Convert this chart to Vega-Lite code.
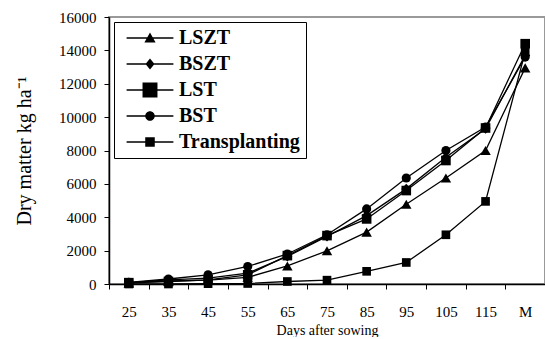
{
  "$schema": "https://vega.github.io/schema/vega-lite/v6.json",
  "width": 436,
  "height": 267,
  "padding": {"left": 14, "top": 10, "right": 0, "bottom": 0},
  "background": "white",
  "config": {
    "view": {"stroke": "#999999", "strokeWidth": 2},
    "font": "Liberation Serif",
    "axisY": {"labelOverlap": false}
  },
  "data": {
    "values": [
      {"series": "BST", "day": "25", "dm": 100}, {"series": "BST", "day": "35", "dm": 300}, {"series": "BST", "day": "45", "dm": 550}, {"series": "BST", "day": "55", "dm": 1050}, {"series": "BST", "day": "65", "dm": 1800}, {"series": "BST", "day": "75", "dm": 2950}, {"series": "BST", "day": "85", "dm": 4500}, {"series": "BST", "day": "95", "dm": 6350}, {"series": "BST", "day": "105", "dm": 8000}, {"series": "BST", "day": "115", "dm": 9400}, {"series": "BST", "day": "M", "dm": 13600},
      {"series": "BSZT", "day": "25", "dm": 80}, {"series": "BSZT", "day": "35", "dm": 250}, {"series": "BSZT", "day": "45", "dm": 350}, {"series": "BSZT", "day": "55", "dm": 650}, {"series": "BSZT", "day": "65", "dm": 1650}, {"series": "BSZT", "day": "75", "dm": 2850}, {"series": "BSZT", "day": "85", "dm": 4100}, {"series": "BSZT", "day": "95", "dm": 5700}, {"series": "BSZT", "day": "105", "dm": 7600}, {"series": "BSZT", "day": "115", "dm": 9300}, {"series": "BSZT", "day": "M", "dm": 13700},
      {"series": "LSZT", "day": "25", "dm": 50}, {"series": "LSZT", "day": "35", "dm": 180}, {"series": "LSZT", "day": "45", "dm": 230}, {"series": "LSZT", "day": "55", "dm": 400}, {"series": "LSZT", "day": "65", "dm": 1080}, {"series": "LSZT", "day": "75", "dm": 1990}, {"series": "LSZT", "day": "85", "dm": 3110}, {"series": "LSZT", "day": "95", "dm": 4780}, {"series": "LSZT", "day": "105", "dm": 6350}, {"series": "LSZT", "day": "115", "dm": 8000}, {"series": "LSZT", "day": "M", "dm": 12950},
      {"series": "Transplanting", "day": "25", "dm": 0}, {"series": "Transplanting", "day": "35", "dm": 0}, {"series": "Transplanting", "day": "45", "dm": 20}, {"series": "Transplanting", "day": "55", "dm": 30}, {"series": "Transplanting", "day": "65", "dm": 150}, {"series": "Transplanting", "day": "75", "dm": 230}, {"series": "Transplanting", "day": "85", "dm": 760}, {"series": "Transplanting", "day": "95", "dm": 1290}, {"series": "Transplanting", "day": "105", "dm": 2950}, {"series": "Transplanting", "day": "115", "dm": 4950}, {"series": "Transplanting", "day": "M", "dm": 13900},
      {"series": "LST", "day": "25", "dm": 80}, {"series": "LST", "day": "35", "dm": 150}, {"series": "LST", "day": "45", "dm": 250}, {"series": "LST", "day": "55", "dm": 550}, {"series": "LST", "day": "65", "dm": 1700}, {"series": "LST", "day": "75", "dm": 2900}, {"series": "LST", "day": "85", "dm": 3900}, {"series": "LST", "day": "95", "dm": 5600}, {"series": "LST", "day": "105", "dm": 7400}, {"series": "LST", "day": "115", "dm": 9350}, {"series": "LST", "day": "M", "dm": 14400}
    ]
  },
  "encoding": {
    "y": {
      "field": "dm", "type": "quantitative",
      "scale": {"domain": [0, 16000], "nice": false},
      "axis": {
        "title": "Dry matter kg ha⁻¹",
        "titleFont": "Liberation Serif", "titleFontSize": 20, "titleFontWeight": "normal", "titleColor": "black", "titlePadding": 24,
        "labelFont": "Liberation Serif", "labelFontSize": 15, "labelColor": "black", "labelPadding": 8,
        "values": [0, 2000, 4000, 6000, 8000, 10000, 12000, 14000, 16000],
        "format": "d", "grid": false, "labelOverlap": false,
        "tickSize": 5, "tickColor": "black", "domainColor": "black", "domainWidth": 1.5
      }
    }
  },
  "layer": [
    {
      "mark": {"type": "line", "color": "black", "strokeWidth": 1.3},
      "encoding": {
        "x": {
          "field": "day", "type": "ordinal",
          "sort": ["25", "35", "45", "55", "65", "75", "85", "95", "105", "115", "M"],
          "scale": {"type": "band", "paddingInner": 0, "paddingOuter": 0},
          "axis": {
            "title": "Days after sowing",
            "titleFont": "Liberation Serif", "titleFontSize": 14, "titleFontWeight": "normal", "titleColor": "black", "titlePadding": 4,
            "labelFont": "Liberation Serif", "labelFontSize": 15, "labelColor": "black", "labelAngle": 0, "labelPadding": 15,
            "tickBand": "extent", "tickSize": 5, "tickColor": "black", "domainColor": "black", "domainWidth": 1.5
          }
        },
        "detail": {"field": "series"}
      }
    },
    {
      "mark": {"type": "point", "filled": true, "color": "black", "opacity": 0},
      "encoding": {
        "x": {"field": "day", "type": "ordinal", "sort": ["25", "35", "45", "55", "65", "75", "85", "95", "105", "115", "M"]},
        "shape": {
          "field": "series", "type": "nominal",
          "scale": {
            "domain": ["LSZT", "BSZT", "LST", "BST", "Transplanting"],
            "range": [
              "M-2.6,-0.075H2.6V0.075H-2.6ZM0,-0.6L0.62,0.5L-0.62,0.5Z",
              "M-2.6,-0.075H2.6V0.075H-2.6ZM0,-0.6L0.5,0L0,0.6L-0.5,0Z",
              "M-2.6,-0.075H2.6V0.075H-2.6ZM-0.83,-0.83H0.83V0.83H-0.83Z",
              "M-2.6,-0.075H2.6V0.075H-2.6ZM0.53,0A0.53,0.53,0,1,1,-0.53,0A0.53,0.53,0,1,1,0.53,0Z",
              "M-2.6,-0.075H2.6V0.075H-2.6ZM-0.53,-0.53H0.53V0.53H-0.53Z"
            ]
          },
          "legend": {
            "title": null,
            "orient": "top-left",
            "offset": 5,
            "fillColor": "white",
            "strokeColor": "black",
            "padding": 6,
            "labelFont": "Liberation Serif", "labelFontSize": 20, "labelFontWeight": "bold", "labelColor": "black",
            "symbolSize": 324,
            "symbolOffset": 20,
            "labelOffset": 19,
            "rowPadding": 6,
            "symbolOpacity": 1,
            "symbolFillColor": "black",
            "symbolStrokeColor": "black",
            "symbolStrokeWidth": 0.5
          }
        }
      }
    },
    {
      "mark": {"type": "point", "filled": true, "color": "black", "opacity": 1},
      "encoding": {
        "x": {"field": "day", "type": "ordinal", "sort": ["25", "35", "45", "55", "65", "75", "85", "95", "105", "115", "M"]},
        "shape": {
          "field": "series", "type": "nominal",
          "scale": {
            "domain": ["LSZT", "BSZT", "LST", "BST", "Transplanting"],
            "range": ["triangle-up", "diamond", "square", "circle", "square"]
          },
          "legend": null
        },
        "size": {
          "field": "series", "type": "nominal",
          "scale": {
            "domain": ["LSZT", "BSZT", "LST", "BST", "Transplanting"],
            "range": [110, 75, 225, 80, 85]
          },
          "legend": null
        }
      }
    }
  ],
  "resolve": {
    "scale": {"shape": "independent"},
    "legend": {"shape": "independent"}
  }
}
